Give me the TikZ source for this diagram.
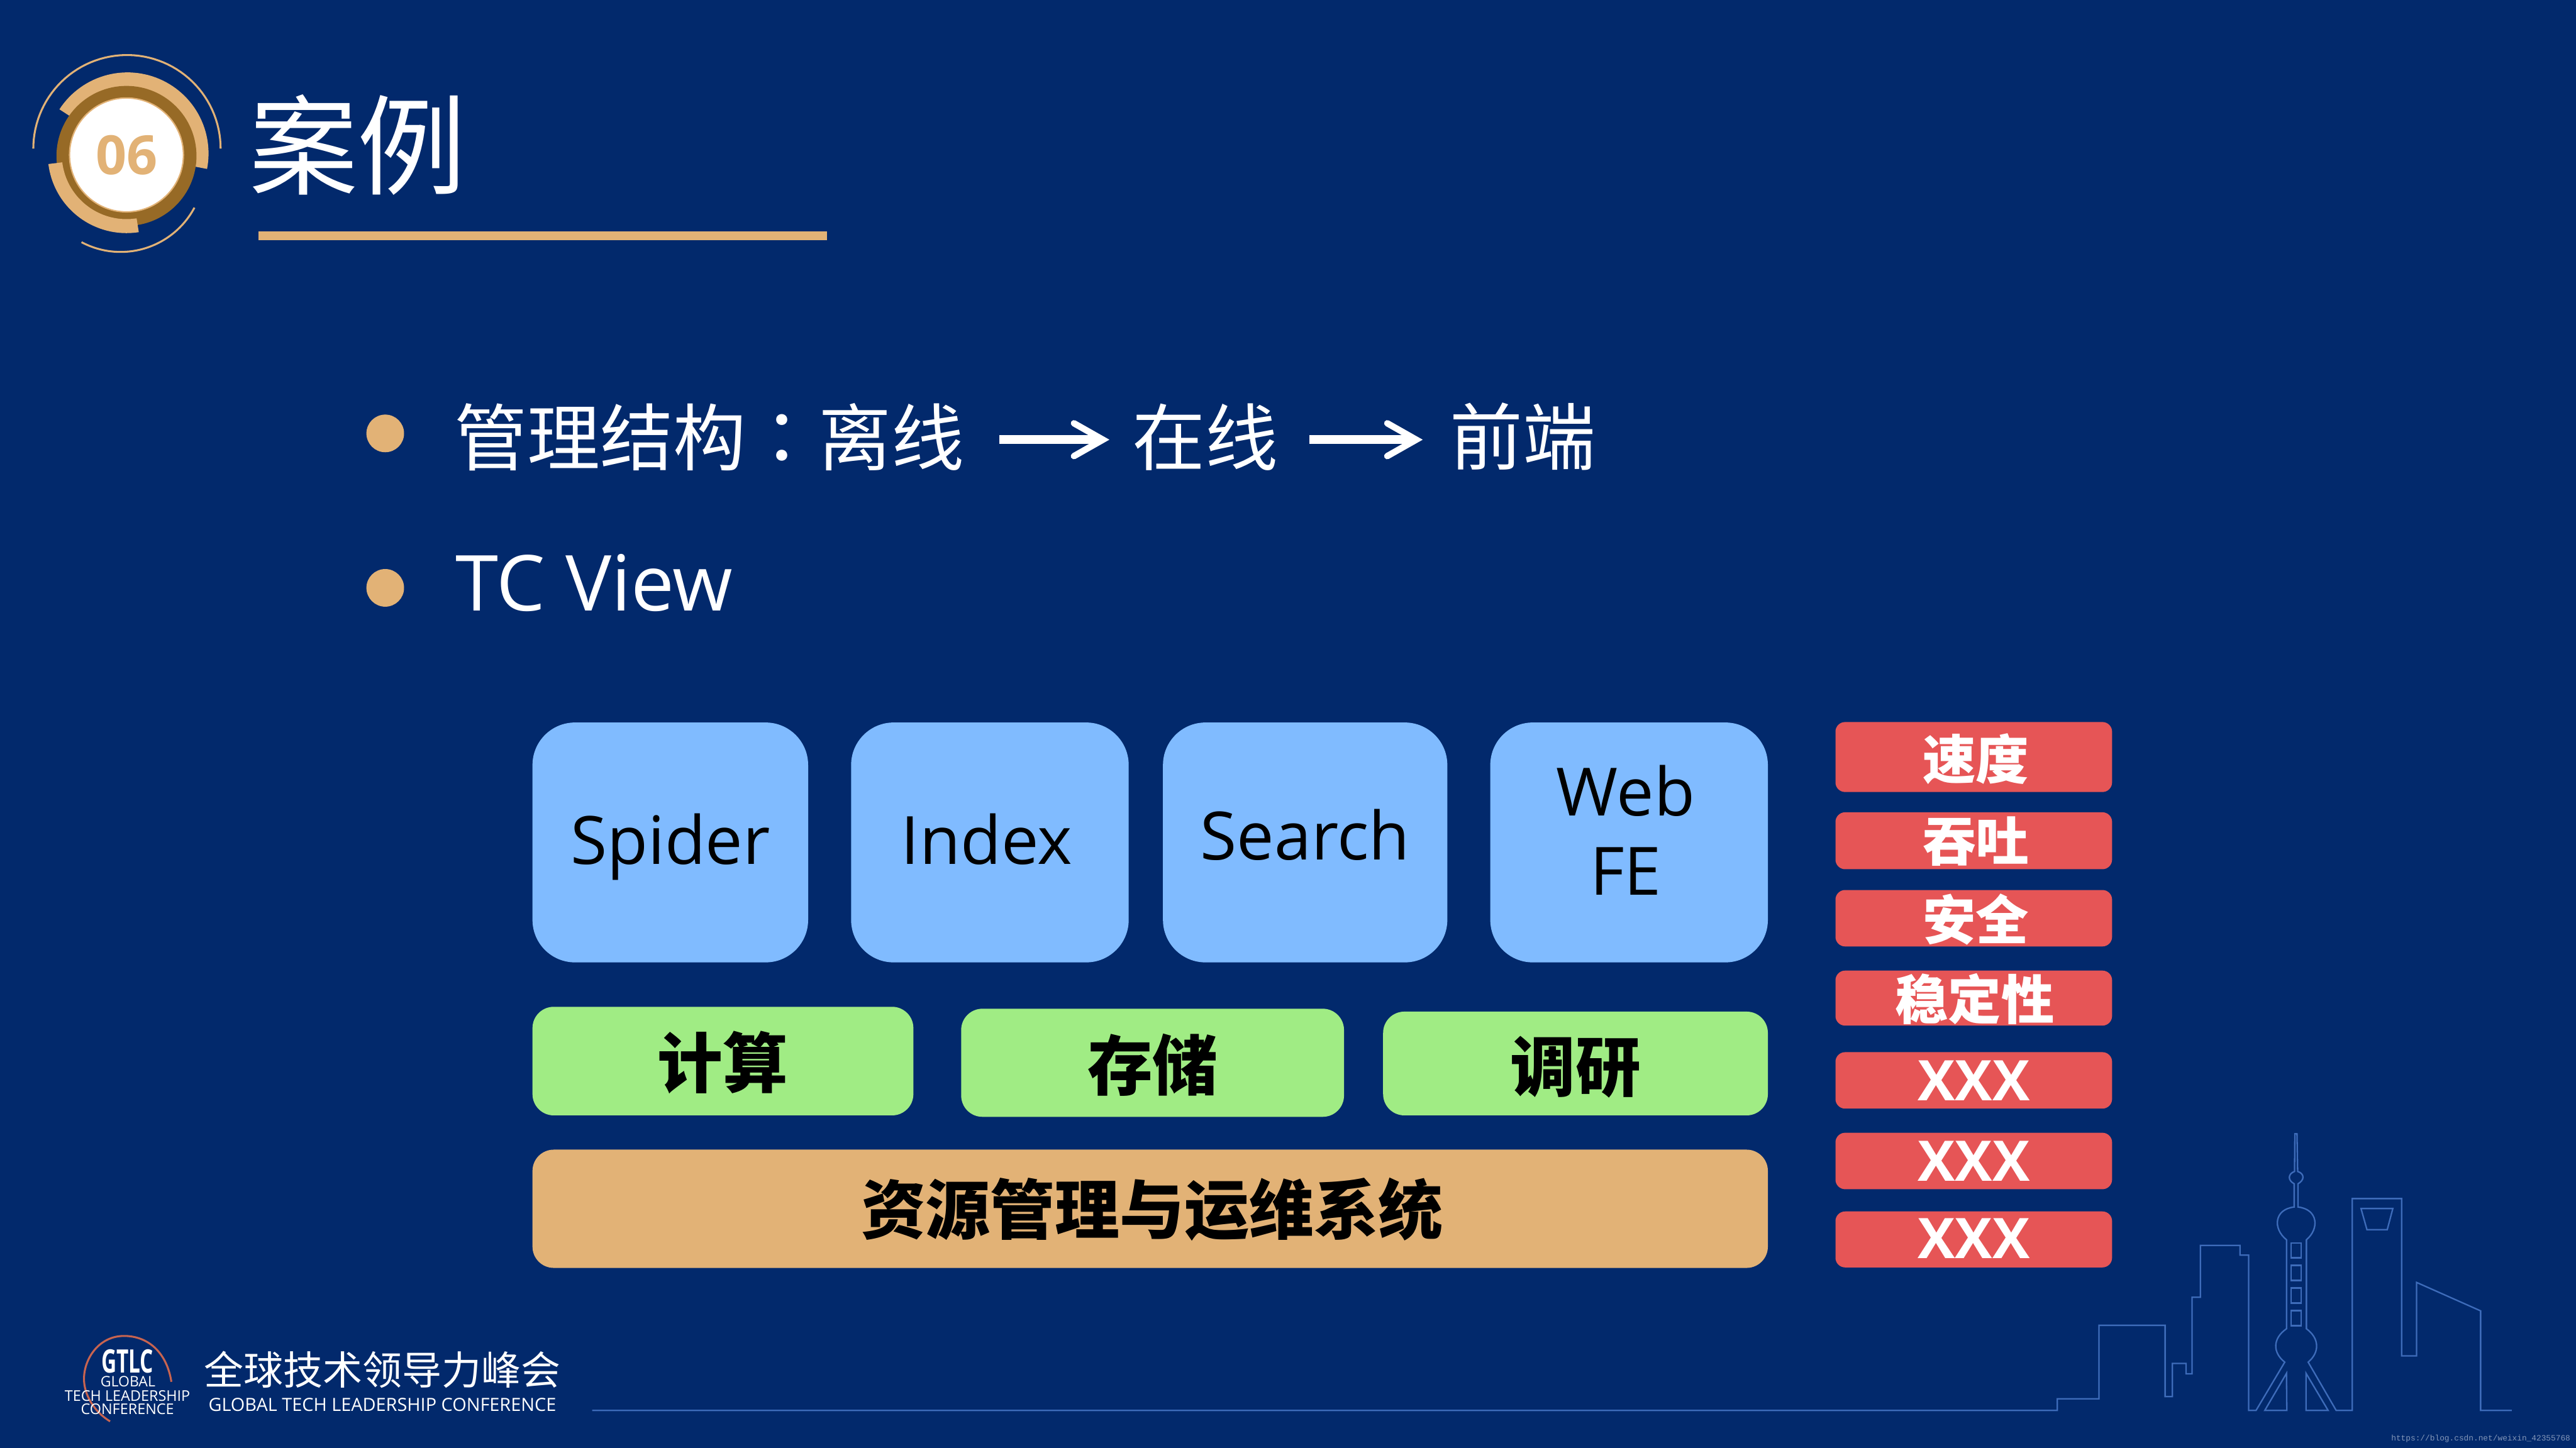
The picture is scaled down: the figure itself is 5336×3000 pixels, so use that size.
\documentclass[tikz,border=0pt]{standalone}
\usepackage{fontspec}
\setmainfont{Open Sans}
\newfontfamily\cjk{Noto Sans CJK SC}
\newfontfamily\cjktc{Noto Sans CJK TC}
\newfontfamily\mono{Liberation Mono}
\usetikzlibrary{arrows.meta}
\definecolor{bgc}{RGB}{2,41,108}
\definecolor{tanc}{RGB}{226,178,118}
\definecolor{brownc}{RGB}{151,106,38}
\definecolor{bluec}{RGB}{128,187,255}
\definecolor{greenc}{RGB}{160,236,132}
\definecolor{redc}{RGB}{230,85,86}
\definecolor{linec}{RGB}{62,108,186}
\definecolor{logoc}{RGB}{200,100,80}
\definecolor{markc}{RGB}{130,150,185}
\newcommand\fs[1]{\fontsize{\fpeval{#1*0.25}pt}{\fpeval{#1*0.297}pt}\selectfont}
% optional side kern, baseline offset from box centre, text
\newcommand\lift[3][0pt]{\hspace*{#1}\raisebox{#2}[0pt][0pt]{#3}}
% style, name, x1, y1, x2, y2, text
\newcommand\pxbox[7]{%
  \pgfmathsetmacro\bw{(#5-#3)*0.25}\pgfmathsetmacro\bh{(#6-#4)*0.25}%
  \node[#1,minimum width=\bw pt,minimum height=\bh pt] (#2) at ({(#3+#5)/2},{(#4+#6)/2}) {#7};}
% colour, cx, cy, angle from, angle to, outer, inner
\newcommand\annul[7]{%
  \fill[#1] plot[domain=#4:#5,samples=60] ({#2+#6*cos(\x)},{#3+#6*sin(\x)})
    -- plot[domain=#5:#4,samples=60] ({#2+#7*cos(\x)},{#3+#7*sin(\x)}) -- cycle;}
\tikzset{
  boxbase/.style={inner sep=0pt,outer sep=0pt},
  bluebox/.style={boxbase,fill=bluec,rounded corners=22pt,text=black,font=\fs{138}},
  greenbox/.style={boxbase,fill=greenc,rounded corners=11pt,text=black,font=\cjk\bfseries\fs{135}},
  tanbox/.style={boxbase,fill=tanc,rounded corners=11pt,text=black,font=\cjk\bfseries\fs{134}},
  redbox/.style={boxbase,fill=redc,rounded corners=5pt,text=white,font=\cjk\bfseries\fs{110}},
  redboxx/.style={boxbase,fill=redc,rounded corners=5pt,text=white,font=\bfseries\fs{116}},
  bullettext/.style={inner sep=0pt,outer sep=0pt,anchor=west,text=white,font=\cjk\fs{151}},
  dot/.style={circle,fill=tanc,inner sep=0pt,minimum size=19.5pt},
  flow/.style={draw=white,line width=4.5pt,-{Straight Barb[length=15pt,width=17pt,line width=3.3pt,line cap=round,line join=miter]}},
  sky/.style={draw=linec,line width=0.75pt,line join=miter},
  foot/.style={inner sep=0pt,outer sep=0pt,text=white},
}
\begin{document}
\begin{tikzpicture}[x=0.25pt,y=-0.25pt]
\path[use as bounding box,fill=bgc] (0,0) rectangle (5336,3000);
% badge
\draw[tanc,line width=1pt] plot[domain=-180:0,samples=60] ({263+194*cos(\x)},{308+194*sin(\x)});
\draw[tanc,line width=1pt] plot[domain=28:118,samples=60] ({250+173*cos(\x)},{349+173*sin(\x)});
\annul{tanc}{264}{318}{-147}{11}{168}{130}
\fill[brownc] (262,323) circle[radius=145];
\annul{tanc}{262}{320}{81}{173}{163}{134}
\node[circle,fill=white,draw=tanc,line width=0.7pt,inner sep=0pt,minimum size=59pt,text=tanc,font=\bfseries\fs{112}] (badge) at (262,321) {06};
% title
\node[foot,font=\cjk\fs{225}] (title) at (741,300) {案例};
\fill[tanc] (536,480) rectangle (1713,498);
% bullets
\node[dot] (b1) at (798,898) {};
\node[dot] (b2) at (798,1218) {};
\node[bullettext] (t1) at (941,905) {管理结构{\cjktc ：}离线};
\node[bullettext] (t2) at (2346,905) {在线};
\node[bullettext] (t3) at (3003,905) {前端};
\draw[flow,shorten <=18pt,shorten >=12pt] ([yshift=-1.5pt]t1.east) -- ([yshift=-1.5pt]t2.west);
\draw[flow,shorten <=16pt,shorten >=14pt] ([yshift=-1.5pt]t2.east) -- ([yshift=-1.5pt]t3.west);
\node[inner sep=0pt,anchor=west,text=white,font=\fs{160}] (tc) at (943,1208) {TC View};
% blue
\pxbox{bluebox}{spider}{1103}{1497}{1674}{1994}{\lift{-11.25pt}{Spider}}
\pxbox{bluebox}{index}{1763}{1497}{2338}{1994}{\lift[-3.5pt]{-11.25pt}{Index}}
\pxbox{bluebox}{search}{2409}{1497}{2998}{1994}{\lift{-9pt}{Search}}
\pxbox{bluebox}{web}{3087}{1497}{3662}{1994}{\lift[-3.5pt]{-27.3pt}{\parbox[b]{100pt}{\centering Web\\FE}}}
% green
\pxbox{greenbox}{calc}{1103}{2086}{1892}{2311}{\lift{-13.6pt}{计算}}
\pxbox{greenbox}{store}{1991}{2090}{2784}{2314}{\lift{-14pt}{存储}}
\pxbox{greenbox}{survey}{2865}{2096}{3662}{2311}{\lift{-14.5pt}{调研}}
\pxbox{tanbox}{ops}{1103}{2382}{3662}{2627}{\lift[2pt]{-12.9pt}{资源管理与运维系统}}
% red
\pxbox{redbox}{r1}{3802}{1496}{4375}{1641}{\lift[2pt]{-11.4pt}{速度}}
\pxbox{redbox}{r2}{3802}{1683}{4375}{1801}{\lift[2pt]{-10.5pt}{吞吐}}
\pxbox{redbox}{r3}{3802}{1844}{4375}{1961}{\lift[2pt]{-11.1pt}{安全}}
\pxbox{redbox}{r4}{3802}{2011}{4375}{2125}{\lift[1pt]{-11pt}{稳定性}}
\pxbox{redboxx}{r5}{3802}{2180}{4375}{2297}{\lift{-10.4pt}{XXX}}
\pxbox{redboxx}{r6}{3802}{2347}{4375}{2464}{\lift{-10.4pt}{XXX}}
\pxbox{redboxx}{r7}{3802}{2510}{4375}{2626}{\lift{-10pt}{XXX}}
% footer logo
\draw[logoc,line width=1pt] (355,2863) .. controls (345,2800) and (305,2768) .. (257,2768) .. controls (205,2768) and (174,2815) .. (174,2857) .. controls (174,2890) and (195,2925) .. (228,2945);
\node[foot,font=\bfseries\fs{67}] (gtlc) at (264,2821) {\scalebox{0.65}[1]{GTLC}};
\node[foot,font=\fs{30}] (gl) at (265,2863) {GLOBAL};
\node[foot,font=\fs{30.5}] (tl) at (264,2892) {TECH LEADERSHIP};
\node[foot,font=\fs{30.5}] (cf) at (264,2920) {CONFERENCE};
\node[foot,font=\cjk\fs{82}] (cn) at (792,2838) {全球技术领导力峰会};
\node[foot,font=\fs{37.6}] (en) at (792,2910) {GLOBAL TECH LEADERSHIP CONFERENCE};
% skyline
\begin{scope}[shift={(4200,2300)},x=0.18116pt,y=-0.11161pt]
\draw[sky] (-4103,1394) -- (85,1394) -- (85,1340) -- (204,1340) -- (204,999) -- (393,999) -- (393,1330) -- (414,1330) -- (414,1176) -- (453,1176) -- (453,1224) -- (470,1224) -- (470,869) -- (494,869) -- (494,628) -- (607,628) -- (607,673) -- (632,673) -- (632,1394) -- (653,1394) -- (735,1170)
 .. controls (700,1125) and (700,1060) .. (740,1015) -- (740,602)
 .. controls (700,550) and (705,460) .. (762,450) -- (762,342)
 .. controls (742,325) and (745,295) .. (763,285) -- (764,110) -- (770,110) -- (772,285)
 .. controls (792,295) and (792,325) .. (773,342) -- (773,450)
 .. controls (830,460) and (835,550) .. (797,602) -- (797,1015)
 .. controls (835,1060) and (835,1125) .. (802,1170) -- (882,1394) -- (928,1394) -- (928,411) -- (1069,411) -- (1069,1141) -- (1112,1141) -- (1112,800) -- (1295,932) -- (1295,1394) -- (1384,1394);
\draw[sky] (740,1222) -- (678,1394) -- (741,1394) -- cycle;
\draw[sky] (796,1222) -- (859,1394) -- (796,1394) -- cycle;
\draw[sky] (753,617) rectangle (782,686);
\draw[sky] (753,721) rectangle (782,791);
\draw[sky] (753,826) rectangle (782,896);
\draw[sky] (753,931) rectangle (782,1001);
\draw[sky] (953,457) -- (1044,457) -- (1028,555) -- (970,555) -- cycle;
\end{scope}
\node[inner sep=0pt,anchor=east,text=markc,font=\mono\fs{16.7}] (mark) at (5325,2981) {https://blog.csdn.net/weixin\_42355768};
\end{tikzpicture}
\end{document}
